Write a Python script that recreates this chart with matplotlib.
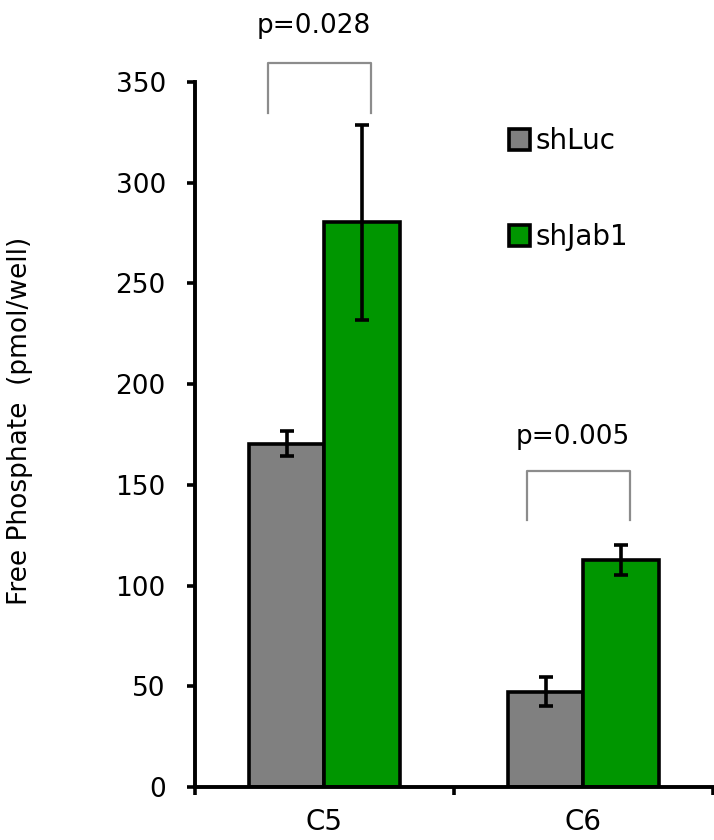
import numpy as np
import matplotlib
matplotlib.use("Agg")
import matplotlib.pyplot as plt

# values
groups = ["C5", "C6"]
shluc = [170.5, 47.2]
shluc_err = [6.3, 7.2]
shjab1 = [280.3, 112.7]
shjab1_err = [48.4, 7.4]
series_names = ["shLuc", "shJab1"]
p_labels = ["p=0.028", "p=0.005"]
bracket_top = [359.5, 157.0]
bracket_leg = [334.6, 132.6]
p_text_y = [378.0, 174.0]

plt.rcParams["font.family"] = ["DejaVu Sans"]

fig = plt.figure(figsize=(7.14, 8.4), dpi=100)
ax = fig.add_axes([0.2731, 0.0631, 0.7255, 0.8393])

x = np.arange(len(groups))
w = 0.29
err_kw = dict(elinewidth=2.6, capsize=4.8, capthick=2.6, ecolor="black")
b1 = ax.bar(x - w / 2, shluc, w, yerr=shluc_err, color="#808080",
            edgecolor="black", linewidth=2.6, error_kw=err_kw, label=series_names[0])
b2 = ax.bar(x + w / 2, shjab1, w, yerr=shjab1_err, color="#009600",
            edgecolor="black", linewidth=2.6, error_kw=err_kw, label=series_names[1])

# significance brackets
for i in range(len(groups)):
    xl, xr = x[i] - 0.22, x[i] + 0.18
    ax.plot([xl, xl, xr, xr], [bracket_leg[i], bracket_top[i], bracket_top[i], bracket_leg[i]],
            color="#8c8c8c", lw=1.6, clip_on=False, solid_joinstyle="round")
    ax.text(x[i] - 0.04, p_text_y[i], p_labels[i], ha="center", va="center",
            fontsize=19, clip_on=False)

ax.set_xlim(-0.5, 1.5)
ax.set_ylim(0, 350)
ax.set_yticks(np.arange(0, 351, 50))
ax.tick_params(axis="y", labelsize=19, width=2.6, length=6, pad=15, direction="out")

ax.set_xticks([-0.5, 0.5, 1.5])
ax.set_xticklabels([])
ax.set_xticks(x, minor=True)
ax.set_xticklabels(groups, minor=True)
ax.tick_params(axis="x", which="major", width=2.6, length=6, direction="out")
ax.tick_params(axis="x", which="minor", length=0, labelsize=20, pad=15)

for s in ["top", "right"]:
    ax.spines[s].set_visible(False)
for s in ["left", "bottom"]:
    ax.spines[s].set_linewidth(2.8)

fig.text(20 / 714, 1 - 421 / 840, "Free Phosphate  (pmol/well)", rotation=90,
         ha="center", va="center", fontsize=19)

ax.legend(handles=[b1, b2], loc="upper left", bbox_to_anchor=(0.606, 0.936),
          frameon=False, fontsize=20, borderpad=0, borderaxespad=0,
          handlelength=0.75, handleheight=0.75, handletextpad=0.2, labelspacing=2.45)

fig.savefig("out.png", dpi=100)
